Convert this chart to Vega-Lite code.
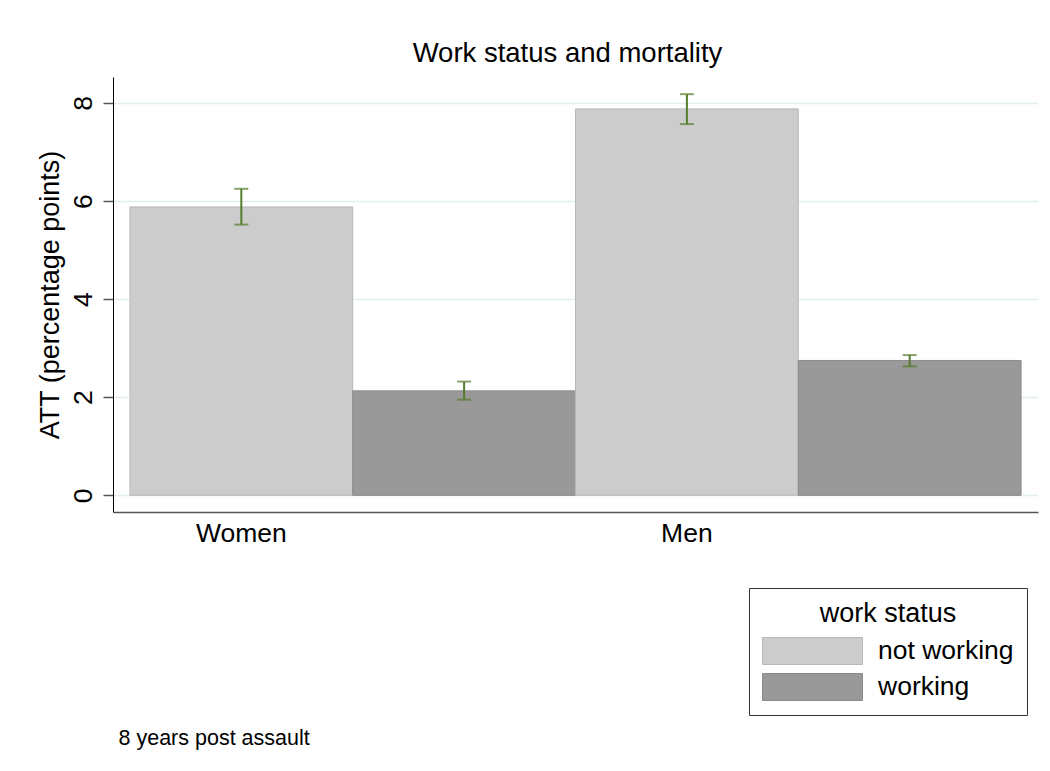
{
  "$schema": "https://vega.github.io/schema/vega-lite/v6.json",
  "width": 925,
  "height": 435,
  "autosize": {"type": "none"},
  "padding": {"left": 113, "top": 77, "right": 12, "bottom": 259},
  "background": "white",
  "config": {"font": "Liberation Sans", "view": {"stroke": null}},
  "title": {"text": "Work status and mortality", "fontSize": 27.5, "fontWeight": "normal", "color": "#000000", "anchor": "middle", "frame": "group", "baseline": "alphabetic", "offset": 15, "dy": 27, "dx": -8},
  "data": {"values": [
    {"group": "Women", "status": "not working", "att": 5.88, "lo": 5.52, "hi": 6.25},
    {"group": "Women", "status": "working", "att": 2.13, "lo": 1.95, "hi": 2.32},
    {"group": "Men", "status": "not working", "att": 7.88, "lo": 7.57, "hi": 8.18},
    {"group": "Men", "status": "working", "att": 2.75, "lo": 2.63, "hi": 2.86}
  ]},
  "encoding": {
    "x": {"field": "group", "type": "nominal", "sort": ["Women", "Men"],
      "scale": {"paddingInner": 0, "paddingOuter": 0.038},
      "axis": {"ticks": false, "labelAngle": 0, "labelFontSize": 26.5, "labelColor": "#000000", "labelOffset": -111.4, "labelPadding": 8, "labelBaseline": "top",
        "domainColor": "#555555", "domainWidth": 1.5,
        "title": "8 years post assault", "titleFontSize": 21.5, "titleFontWeight": "normal", "titleColor": "#000000", "titleAnchor": "start", "titleAlign": "left", "titleBaseline": "alphabetic", "titleX": 5, "titleY": 232}},
    "xOffset": {"field": "status", "type": "nominal", "sort": ["not working", "working"], "scale": {"paddingInner": 0, "paddingOuter": 0}}
  },
  "layer": [
    {
      "mark": {"type": "bar", "strokeWidth": 1},
      "encoding": {
        "y": {"field": "att", "type": "quantitative", "title": "ATT (percentage points)",
          "scale": {"domain": [-0.34, 8.53], "nice": false, "zero": false},
          "axis": {"values": [0, 2, 4, 6, 8], "grid": true, "gridColor": "#e3eef0", "gridWidth": 1.5, "domainColor": "#000000", "tickColor": "#555555", "tickSize": 10, "tickWidth": 1.5,
            "labelAngle": -90, "labelAlign": "center", "labelBaseline": "alphabetic", "labelFontSize": 26.5, "labelColor": "#000000", "labelPadding": 12,
            "titleFontSize": 27, "titleFontWeight": "normal", "titleColor": "#000000", "titlePadding": 6}},
        "fill": {"field": "status", "type": "nominal", "scale": {"domain": ["not working", "working"], "range": ["#cccccc", "#999999"]}, "title": "work status",
          "legend": {"orient": "none", "legendX": 636, "legendY": 511, "strokeColor": "#333333", "fillColor": "#ffffff", "padding": 13,
            "titleFontSize": 27, "titleFontWeight": "normal", "titleColor": "#000000", "titleAnchor": "middle", "titlePadding": 8,
            "labelFontSize": 26.5, "labelColor": "#000000", "labelOffset": 15, "labelBaseline": "middle",
            "symbolType": "M-1,-0.27H1V0.27H-1Z", "symbolSize": 10000, "symbolStrokeWidth": 1, "clipHeight": 30, "rowPadding": 6}},
        "stroke": {"field": "status", "type": "nominal", "scale": {"domain": ["not working", "working"], "range": ["#b8b8b8", "#8a8a8a"]}, "title": "work status"}
      }
    },
    {
      "mark": {"type": "rule", "color": "#567d2e", "strokeWidth": 2},
      "encoding": {"y": {"field": "lo", "type": "quantitative", "title": "ATT (percentage points)"}, "y2": {"field": "hi"}}
    },
    {
      "mark": {"type": "tick", "color": "#567d2e", "size": 14, "thickness": 2},
      "encoding": {"y": {"field": "hi", "type": "quantitative", "title": "ATT (percentage points)"}}
    },
    {
      "mark": {"type": "tick", "color": "#567d2e", "size": 14, "thickness": 2},
      "encoding": {"y": {"field": "lo", "type": "quantitative", "title": "ATT (percentage points)"}}
    }
  ]
}
